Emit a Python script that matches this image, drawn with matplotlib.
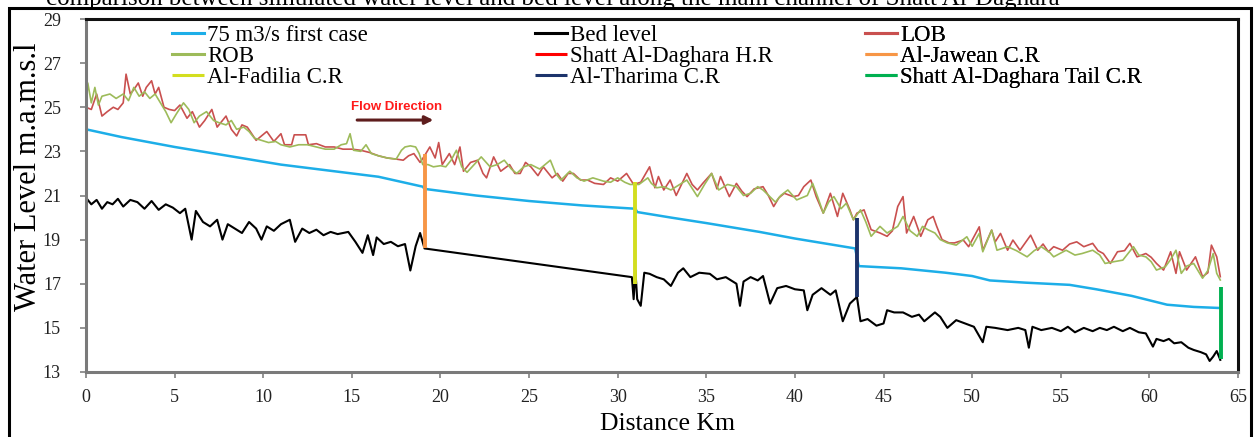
import matplotlib
matplotlib.use("Agg")
import matplotlib.pyplot as plt
from matplotlib.patches import Rectangle

# ---------------- data ----------------
blue_x = [0, 2, 5, 8, 11, 14, 16.5, 19, 19.1, 22, 25, 28, 31, 31.1, 33, 35, 38, 40,
          43.4, 43.6, 46, 48.5, 50, 51, 53, 55.5, 57, 59, 61, 62.5, 64]
blue_y = [24.0, 23.65, 23.2, 22.8, 22.4, 22.1, 21.85, 21.4, 21.3, 21.0, 20.75, 20.55,
          20.4, 20.25, 20.0, 19.75, 19.35, 19.05, 18.6, 17.8, 17.7, 17.5, 17.35, 17.15,
          17.05, 16.95, 16.75, 16.45, 16.05, 15.95, 15.9]

bed_x = [0, 0.3, 0.6, 0.9, 1.2, 1.5, 1.8, 2.1, 2.5, 2.9, 3.3, 3.7, 4.1, 4.5, 4.9, 5.3,
         5.6, 5.96, 6.2, 6.6, 7.0, 7.4, 7.7, 8.0, 8.4, 8.8, 9.2, 9.6, 9.9, 10.2, 10.6,
         11.0, 11.5, 11.8, 12.2, 12.6, 13.0, 13.4, 13.8, 14.2, 14.8, 15.2, 15.6, 15.9,
         16.2, 16.4, 16.8, 17.2, 17.6, 18.0, 18.3, 18.6, 18.85, 19.1, 30.8, 30.9, 31.0,
         31.1, 31.3, 31.5, 31.8, 32.2, 32.6, 33.0, 33.4, 33.7, 34.1, 34.6, 35.2, 35.6,
         36.1, 36.7, 36.9, 37.1, 37.5, 37.9, 38.2, 38.6, 39.0, 39.5, 40.0, 40.5, 40.7,
         41.0, 41.5, 42.0, 42.3, 42.7, 43.1, 43.5, 43.7, 44.1, 44.6, 45.0, 45.2, 45.6,
         46.1, 46.6, 47.0, 47.3, 47.6, 47.9, 48.2, 48.6, 49.1, 49.6, 50.1, 50.6, 50.8,
         51.3, 52.0, 52.6, 53.0, 53.2, 53.4, 53.9, 54.5, 55.0, 55.4, 55.8, 56.3, 56.8,
         57.2, 57.6, 58.0, 58.5, 58.9, 59.4, 59.8, 60.2, 60.4, 60.8, 61.1, 61.4, 61.8,
         62.2, 62.5, 62.9, 63.2, 63.4, 63.6, 63.8, 64.0]
bed_y = [20.9, 20.6, 20.8, 20.4, 20.7, 20.6, 20.85, 20.5, 20.8, 20.7, 20.4, 20.75, 20.35,
         20.6, 20.45, 20.2, 20.4, 19.0, 20.3, 19.8, 19.6, 19.9, 19.0, 19.7, 19.5, 19.3,
         19.8, 19.5, 19.0, 19.6, 19.4, 19.7, 19.9, 18.9, 19.5, 19.3, 19.45, 19.2, 19.35,
         19.25, 19.35, 18.9, 18.4, 19.2, 18.3, 19.1, 18.8, 18.9, 18.7, 18.8, 17.6, 18.7,
         19.3, 18.6, 17.3, 16.3, 17.6, 16.3, 16.0, 17.5, 17.45, 17.3, 17.2, 16.9, 17.5,
         17.7, 17.3, 17.5, 17.45, 17.2, 17.3, 17.0, 16.0, 17.1, 17.3, 17.15, 17.35, 16.1,
         16.8, 16.9, 16.75, 16.7, 15.8, 16.5, 16.8, 16.5, 16.7, 15.3, 16.1, 16.4, 15.3,
         15.4, 15.1, 15.2, 15.8, 15.7, 15.7, 15.5, 15.6, 15.3, 15.5, 15.7, 15.5, 15.0,
         15.35, 15.2, 15.05, 14.35, 15.05, 15.0, 14.9, 15.0, 14.9, 14.1, 15.05, 14.9, 15.0,
         14.85, 15.05, 14.8, 15.0, 14.85, 15.0, 14.9, 15.05, 14.85, 15.0, 14.8, 14.75,
         14.15, 14.5, 14.4, 14.5, 14.3, 14.35, 14.1, 14.0, 13.9, 13.8, 13.5, 13.7, 13.95,
         13.55]

lob_x = [0, 0.3, 0.6, 0.9, 1.2, 1.54, 1.8, 2.1, 2.26, 2.5, 2.7, 2.95, 3.2, 3.4, 3.7, 3.9,
         4.1, 4.4, 4.7, 5.0, 5.3, 5.7, 6.0, 6.4, 6.7, 7.1, 7.4, 7.9, 8.2, 8.5, 8.8, 9.1,
         9.6, 10.2, 10.6, 11.0, 11.2, 11.6, 11.75, 12.4, 12.55, 13.0, 13.5, 14.0, 14.5,
         15.0, 15.5, 16.0, 16.5, 17.0, 17.5, 17.9, 18.2, 18.5, 18.85, 19.1, 19.4, 19.7,
         19.9, 20.1, 20.5, 20.8, 21.1, 21.3, 21.7, 22.1, 22.4, 22.6, 23.0, 23.4, 23.9,
         24.2, 24.5, 24.8, 25.1, 25.5, 25.8, 26.3, 26.6, 26.9, 27.2, 27.5, 27.9, 28.3,
         28.7, 29.2, 29.6, 30.0, 30.5, 30.9, 31.3, 31.8, 32.1, 32.3, 32.6, 32.96, 33.3,
         33.6, 33.9, 34.2, 34.5, 34.8, 35.3, 35.6, 35.8, 36.3, 36.7, 37.0, 37.3, 37.7,
         38.2, 38.5, 38.8, 39.1, 39.4, 39.9, 40.2, 40.5, 40.9, 41.2, 41.6, 42.0, 42.4,
         42.7, 43.1, 43.3, 43.5, 43.9, 44.3, 44.8, 45.2, 45.5, 45.8, 46.1, 46.3, 46.7,
         47.1, 47.5, 47.8, 48.0, 48.3, 48.7, 49.0, 49.5, 49.8, 50.4, 50.6, 51.1, 51.3,
         51.6, 52.0, 52.3, 52.7, 53.3, 53.7, 54.0, 54.3, 54.6, 55.1, 55.5, 55.9, 56.3,
         56.8, 57.1, 57.4, 57.8, 58.2, 58.6, 58.9, 59.3, 59.8, 60.1, 60.4, 60.8, 61.2,
         61.5, 61.7, 62.1, 62.6, 63.0, 63.3, 63.5, 63.8, 64.0]
lob_y = [25.0, 24.9, 25.6, 24.6, 24.8, 25.0, 24.9, 25.2, 26.5, 25.6, 25.8, 26.1, 25.5,
         25.9, 26.2, 25.6, 25.9, 25.0, 24.9, 24.85, 25.1, 24.5, 24.8, 24.1, 24.4, 24.9,
         24.1, 24.6, 24.0, 23.7, 24.2, 24.1, 23.5, 23.9, 23.45, 23.8, 23.3, 23.3, 23.75,
         23.75, 23.3, 23.35, 23.2, 23.2, 23.1, 23.1, 23.05, 22.95, 22.8, 22.7, 22.65, 22.6,
         22.8, 22.9, 22.5, 22.8, 23.2, 22.7, 23.4, 22.4, 22.9, 22.4, 23.2, 22.1, 22.5,
         22.6, 22.0, 21.8, 22.75, 22.1, 22.4, 22.0, 22.0, 22.5, 22.3, 21.9, 22.3, 21.8,
         22.0, 21.65, 22.0, 22.0, 21.7, 21.7, 21.55, 21.5, 21.8, 21.65, 22.0, 21.5, 21.6,
         22.3, 21.35, 21.86, 21.25, 21.7, 21.0, 21.5, 22.0, 21.5, 21.25, 21.55, 22.0,
         21.3, 21.86, 20.95, 21.55, 21.2, 20.95, 21.3, 21.4, 21.0, 20.5, 20.9, 21.1,
         20.95, 21.0, 21.4, 21.7, 20.95, 20.2, 21.1, 20.05, 21.1, 20.35, 19.9, 20.2, 20.35,
         19.45, 19.3, 19.15, 19.4, 20.5, 20.95, 19.3, 20.05, 19.15, 19.9, 20.05, 19.6,
         19.0, 18.85, 18.85, 18.98, 18.68, 19.58, 18.52, 19.43, 18.9, 19.28, 18.52, 18.98,
         18.52, 19.2, 18.52, 18.8, 18.45, 18.68, 18.52, 18.8, 18.9, 18.68, 18.83, 18.5,
         18.37, 17.92, 18.45, 18.5, 18.83, 18.22, 18.37, 18.2, 17.92, 17.62, 18.45, 17.47,
         18.45, 17.62, 18.22, 17.32, 17.5, 18.75, 18.22, 17.32]

rob_x = [0, 0.1, 0.3, 0.5, 0.7, 0.9, 1.35, 1.7, 2.1, 2.4, 2.7, 3.0, 3.3, 3.6, 3.9, 4.2,
         4.5, 4.8, 5.1, 5.5, 5.8, 6.1, 6.4, 6.8, 7.2, 7.5, 7.9, 8.2, 8.5, 8.9, 9.2, 9.5,
         9.9, 10.3, 10.7, 11.0, 11.5, 12.0, 12.5, 13.0, 13.5, 14.0, 14.4, 14.7, 14.9, 15.1,
         15.5, 15.8, 16.1, 16.5, 17.0, 17.5, 17.8, 18.0, 18.3, 18.6, 18.8, 19.0, 19.3,
         19.6, 20.0, 20.3, 20.6, 20.9, 21.2, 21.5, 21.9, 22.3, 22.8, 23.2, 23.6, 24.0,
         24.3, 24.7, 25.1, 25.6, 26.2, 26.5, 26.8, 27.3, 27.7, 28.1, 28.6, 29.2, 29.6,
         30.0, 30.4, 30.7, 31.2, 31.7, 31.9, 32.2, 32.6, 33.0, 33.5, 33.9, 34.5, 34.9,
         35.3, 35.7, 36.2, 36.7, 37.1, 37.5, 37.9, 38.2, 38.9, 39.2, 39.6, 40.1, 40.7,
         41.0, 41.3, 41.6, 41.9, 42.2, 42.6, 42.9, 43.3, 43.7, 44.0, 44.3, 44.8, 45.2,
         45.5, 45.8, 46.1, 46.5, 46.9, 47.2, 47.5, 47.9, 48.2, 48.6, 49.1, 49.7, 50.0,
         50.4, 50.6, 51.1, 51.4, 52.0, 52.5, 53.1, 53.5, 53.9, 54.4, 54.6, 55.3, 55.8,
         56.2, 56.8, 57.2, 57.5, 58.0, 58.5, 59.1, 59.4, 59.8, 60.1, 60.4, 60.9, 61.2,
         61.5, 61.8, 62.1, 62.5, 63.0, 63.3, 63.6, 63.8, 64.0]
rob_y = [25.0, 26.1, 25.2, 25.9, 25.1, 25.5, 25.6, 25.4, 25.6, 25.3, 25.9, 25.5, 25.7,
         25.4, 25.6, 25.2, 24.8, 24.3, 24.7, 25.2, 24.9, 24.3, 24.6, 24.8, 24.4, 24.3,
         24.2, 24.4, 24.0, 24.1, 23.9, 23.6, 23.5, 23.4, 23.45, 23.3, 23.2, 23.3, 23.3,
         23.2, 23.1, 23.1, 23.3, 23.35, 23.8, 23.05, 23.0, 23.3, 22.9, 22.8, 22.7, 22.65,
         23.05, 23.2, 23.25, 23.2, 22.9, 22.4, 22.4, 22.3, 22.35, 22.3, 22.6, 23.05, 22.3,
         22.05, 22.4, 22.75, 22.3, 22.4, 22.6, 22.2, 22.0, 22.3, 22.4, 22.2, 22.6, 22.0,
         21.7, 22.1, 21.8, 21.65, 21.8, 21.65, 21.6, 21.8, 21.6, 21.5, 21.5, 21.8, 21.55,
         21.35, 21.4, 21.25, 21.5, 21.7, 20.95, 21.5, 22.0, 21.25, 21.5, 21.4, 21.0, 21.1,
         21.4, 21.25, 20.7, 21.0, 21.25, 20.8, 21.0, 21.55, 20.9, 20.2, 20.7, 20.95, 20.4,
         20.65, 19.9, 20.35, 19.8, 19.15, 19.6, 19.3, 19.45, 19.6, 20.05, 19.4, 19.15,
         19.6, 19.45, 19.3, 19.0, 18.85, 18.75, 19.13, 18.7, 19.28, 18.45, 19.43, 18.52,
         18.68, 18.5, 18.22, 18.5, 18.68, 18.4, 18.22, 18.52, 18.3, 18.37, 18.52, 18.3,
         17.92, 18.0, 18.07, 18.68, 18.3, 18.22, 18.0, 17.62, 17.77, 18.1, 18.52, 17.47,
         17.8, 17.92, 17.25, 17.6, 18.37, 17.47, 17.17]

# cross regulators: (label, chainage km, lower level, upper level)
reg_labels = ["Shatt Al-Daghara H.R", "Al-Jawean C.R", "Al-Fadilia C.R",
              "Al-Tharima C.R", "Shatt Al-Daghara Tail C.R"]
reg_x = [0.0, 19.1, 30.95, 43.5, 64.05]
reg_low = [20.9, 18.6, 17.0, 16.4, 13.6]
reg_high = [26.0, 22.9, 21.6, 20.0, 16.85]

x_ticks = list(range(0, 66, 5))
y_ticks = list(range(13, 30, 2))

# ---------------- styles ----------------
c_blue = "#1daee8"
c_bed = "#000000"
c_lob = "#c9504f"
c_rob = "#9dbb5a"
reg_colors = ["#ff0000", "#f79646", "#d3de1f", "#1c336b", "#00b050"]
serif = ["Liberation Serif", "DejaVu Serif"]

fig = plt.figure(figsize=(12.57, 4.37), dpi=100)
ax = fig.add_axes([86 / 1257, 1 - 372 / 437, (1238 - 86) / 1257, (372 - 19) / 437])

h_blue, = ax.plot(blue_x, blue_y, color=c_blue, lw=1.8, label="75 m3/s first case")
h_bed, = ax.plot(bed_x, bed_y, color=c_bed, lw=1.5, label="Bed level")
h_lob, = ax.plot(lob_x, lob_y, color=c_lob, lw=1.2, label="LOB")
h_rob, = ax.plot(rob_x, rob_y, color=c_rob, lw=1.2, label="ROB")
reg_handles = []
for lab, xx, lo, hi, col in zip(reg_labels, reg_x, reg_low, reg_high, reg_colors):
    h, = ax.plot([xx, xx], [lo, hi], color=col, lw=2.8, label=lab, solid_capstyle="butt")
    reg_handles.append(h)

ax.set_xlim(0, 65)
ax.set_ylim(13, 29)
ax.set_xticks(x_ticks)
ax.set_yticks(y_ticks)
for lab in ax.get_xticklabels() + ax.get_yticklabels():
    lab.set_family(serif)
    lab.set_fontsize(13)
    lab.set_color("#222222")
ax.tick_params(axis="y", length=4, width=1.2, color="#808080", pad=14)
ax.tick_params(axis="x", length=4, width=1.2, color="#808080", pad=8)

for s in ["left", "bottom"]:
    ax.spines[s].set_color("#7a7a7a")
    ax.spines[s].set_linewidth(2.2)
for s in ["top", "right"]:
    ax.spines[s].set_color("#111111")
    ax.spines[s].set_linewidth(2.2)

ax.set_ylabel("Water Level m.a.m.s.l", family=serif, fontsize=22)
ax.yaxis.set_label_coords(-0.037, 0.552)
ax.set_xlabel("Distance Km", family=serif, fontsize=18.5)
ax.xaxis.set_label_coords(0.505, -0.116)

# legend: three columns as in the reference
cols = [[h_blue, h_rob, reg_handles[2]],
        [h_bed, reg_handles[0], reg_handles[3]],
        [h_lob, reg_handles[1], reg_handles[4]]]
col_x = [(172 - 86) / 1152, (535 - 86) / 1152, (865 - 86) / 1152]
for hs, cx in zip(cols, col_x):
    lg = ax.legend(handles=hs, loc="upper left", bbox_to_anchor=(cx, 0.982),
                   frameon=False, borderpad=0, borderaxespad=0, handlelength=1.4,
                   handletextpad=0.12, labelspacing=0.0,
                   prop={"family": serif, "size": 16.5})
    for ln in lg.get_lines():
        ln.set_linewidth(2.2)
    ax.add_artist(lg)

# flow direction annotation
ax.text(17.5, 25.0, "Flow Direction", color="#ff1a1a", fontsize=9.5,
        fontweight="bold", family=["Liberation Sans", "DejaVu Sans"],
        ha="center", va="center")
ax.annotate("", xy=(19.6, 24.42), xytext=(15.3, 24.42),
            arrowprops=dict(arrowstyle="-|>", color="#5e1d1d", lw=2.2,
                            mutation_scale=12, shrinkA=0, shrinkB=0))

# outer frame of the figure panel
fig.patches.append(Rectangle((9 / 1257, -0.05), (1251 - 9) / 1257, 1.05 - 8 / 437,
                             transform=fig.transFigure, fill=False,
                             edgecolor="black", lw=2.2, zorder=5))
# caption of the source figure, cut by the top edge as in the reference
fig.text(46 / 1257, 1 - 5 / 437,
         "comparison between simulated water level and bed level along the main channel of Shatt Al-Daghara",
         family=serif, fontsize=18, va="baseline", ha="left", color="black")

fig.savefig("out.png", dpi=100)
